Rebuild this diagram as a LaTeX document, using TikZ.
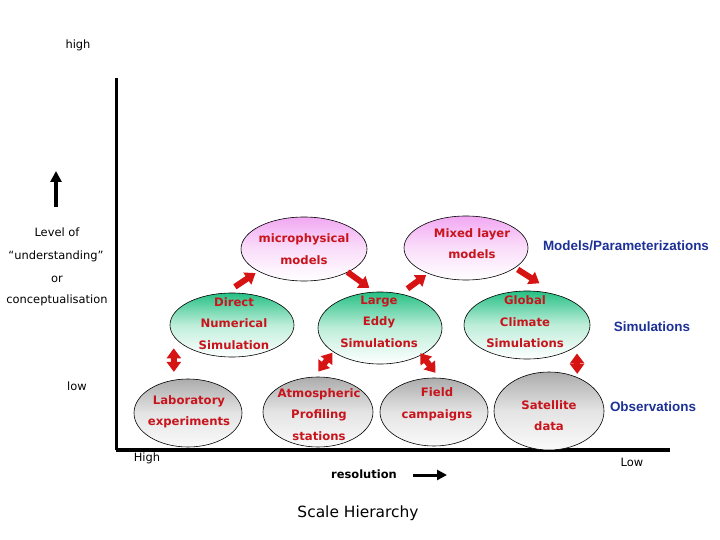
\documentclass[tikz,border=0pt]{standalone}
\usepackage{fontspec}
\usetikzlibrary{shapes.geometric,arrows.meta}
\newfontfamily\dvs{DejaVu Sans}
\newfontfamily\libs{Liberation Sans}
\definecolor{redtxt}{RGB}{200,20,28}
\definecolor{arrred}{RGB}{215,20,20}
\definecolor{bluetxt}{RGB}{28,48,150}
\definecolor{pinktop}{RGB}{242,168,242}
\definecolor{pinkmid}{RGB}{250,222,250}
\definecolor{greentop}{RGB}{38,192,132}
\definecolor{greenmid}{RGB}{190,238,218}
\definecolor{graytop}{RGB}{172,172,172}
\definecolor{graymid}{RGB}{228,228,228}
\begin{document}
\begin{tikzpicture}[x=1bp,y=-1bp,
  ell/.style={ellipse, draw=black, line width=0.6bp, inner sep=0pt},
  pinkell/.style={ell, top color=pinktop, bottom color=white, middle color=pinkmid},
  greenell/.style={ell, top color=greentop, bottom color=white, middle color=greenmid},
  grayell/.style={ell, top color=graytop, bottom color=white!98!black, middle color=graymid},
  redtext/.style={text=redtxt, font=\dvs\bfseries\fontsize{11.7}{21.5}\selectfont, align=center, inner sep=0pt},
  bluetext/.style={text=bluetxt, font=\libs\bfseries\fontsize{13.5}{16}\selectfont, inner sep=0pt},
  plaintext/.style={font=\dvs\fontsize{11.5}{13}\selectfont, inner sep=0pt},
  redarr/.style={draw=arrred, line width=6bp, -{Triangle[width=14bp,length=10bp]}},
  dblarr/.style={draw=arrred, line width=6bp, {Triangle[width=14bp,length=10bp]}-{Triangle[width=14bp,length=10bp]}},
  axisline/.style={draw=black, line width=3bp}
]
\useasboundingbox (0,0) rectangle (720,540);

% axes
\coordinate (axtop) at (116,78);
\coordinate (axorig) at (116,450);
\coordinate (axright) at (670,450);
\draw[axisline] (axtop) -- (axorig);
\draw[axisline, line width=3.5bp] (axorig) -- (axright);

% ellipses
\node[pinkell, minimum width=126bp, minimum height=64bp] (micro) at (304,249) {};
\node[pinkell, minimum width=124bp, minimum height=64bp] (mixed) at (466,248) {};
\node[greenell, minimum width=124bp, minimum height=64bp] (dns) at (232,325) {};
\node[greenell, minimum width=124bp, minimum height=72bp] (les) at (380,328) {};
\node[greenell, minimum width=126bp, minimum height=68bp] (gcm) at (527,325) {};
\node[grayell, minimum width=108bp, minimum height=68bp] (lab) at (188,413) {};
\node[grayell, minimum width=110bp, minimum height=70bp] (atm) at (318,412) {};
\node[grayell, minimum width=108bp, minimum height=68bp] (field) at (434,412) {};
\node[grayell, minimum width=110bp, minimum height=78bp] (sat) at (549,411) {};

% ellipse texts
\node[redtext] (microT) at (304,249) {microphysical\\models};
\node[redtext] (mixedT) at (472,243.5) {Mixed layer\\models};
\node[redtext] (dnsT) at (234,323.5) {Direct\\Numerical\\Simulation};
\node[redtext] (lesT) at (379,321.5) {Large\\Eddy\\Simulations};
\node[redtext] (gcmT) at (525,322) {Global\\Climate\\Simulations};
\node[redtext] (labT) at (189,412) {Laboratory\\experiments};
\node[redtext] (atmT) at (319,414.5) {Atmospheric\\Profiling\\stations};
\node[redtext] (fieldT) at (437,404.5) {Field\\campaigns};
\node[redtext] (satT) at (549,415.5) {Satellite\\data};

% red arrows
\draw[redarr, shorten <=11bp, shorten >=3.2bp] (dns.101) -- (micro.206);
\draw[redarr, shorten <=-0.5bp, shorten >=6.9bp] (micro.332) -- (les.98.6);
\draw[redarr, shorten <=8.5bp, shorten >=2.4bp] (les.59.6) -- (mixed.214.7);
\draw[redarr, shorten <=3bp, shorten >=22bp] (mixed.338.7) -- (gcm.44.5);
\draw[dblarr, shorten <=12bp, shorten >=8bp] (dns.191) -- (lab.113);
\draw[dblarr, shorten <=1bp, shorten >=6.5bp] (les.207.4) -- (atm.96.5);
\draw[dblarr, shorten <=-2.3bp, shorten >=6.4bp] (les.327.1) -- (field.81.9);
\draw[dblarr, shorten <=7.3bp, shorten >=3.4bp] (gcm.337.5) -- (sat.50.2);

% blue labels
\node[bluetext] (lblmodels) at (626,246) {Models/Parameterizations};
\node[bluetext] (lblsims) at (652,327) {Simulations};
\node[bluetext] (lblobs) at (653,407) {Observations};

% left labels
\node[plaintext] (high) at (78,45) {high};
\node[plaintext] (levelof) at (57,232) {Level of};
\node[plaintext] (underst) at (56,256) {“understanding”};
\node[plaintext] (orlbl) at (57,279) {or};
\node[plaintext] (concept) at (57,300) {conceptualisation};
\node[plaintext] (low) at (77,386) {low};
\node[plaintext] (High) at (147,458) {High};
\node[plaintext] (Low) at (632,462) {Low};

% up arrow
\coordinate (uparrB) at (56,207);
\coordinate (uparrT) at (56,171);
\draw[line width=3.5bp, -{Triangle[width=11bp,length=11bp]}] (uparrB) -- (uparrT);

% resolution
\node[font=\dvs\bfseries\fontsize{11.5}{14}\selectfont, inner sep=0pt] (resol) at (364,474) {resolution};
\coordinate (resA) at (413,475);
\coordinate (resB) at (447,475);
\draw[line width=3bp, -{Triangle[width=10bp,length=10bp]}] (resA) -- (resB);

\node[font=\dvs\fontsize{15.5}{18}\selectfont, inner sep=0pt] (scale) at (358,513) {Scale Hierarchy};
\end{tikzpicture}
\end{document}
